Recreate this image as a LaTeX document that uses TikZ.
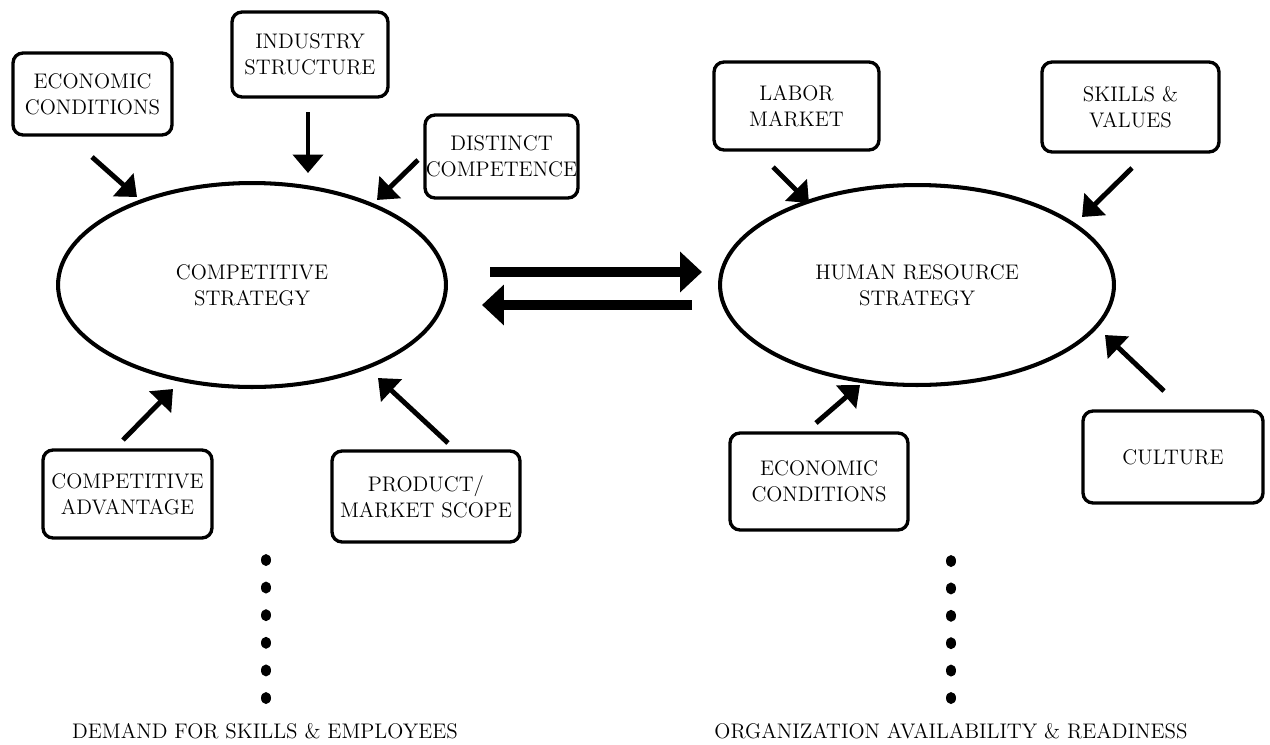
\documentclass[tikz,border=0pt]{standalone}
\usetikzlibrary{arrows.meta,shapes.geometric}
\begin{document}
\begin{tikzpicture}[x=0.02cm,y=-0.02cm,
  lbl/.style={font=\fontsize{12}{15}\selectfont, align=center},
  box/.style={lbl, draw, line width=1.9pt, rounded corners=0.2cm, inner sep=0pt},
  oval/.style={lbl, draw, ellipse, line width=2.3pt, inner sep=0pt},
  feed/.style={line width=2.8pt, -{Triangle[length=10.5pt,width=17pt]}},
  flow/.style={line width=5.6pt, -{Triangle[length=12.5pt,width=22.5pt]}},
  dot/.style={fill=black},
]
\useasboundingbox (0,0) rectangle (1270,744);

% --- competitive strategy side ---
\node[oval, minimum width=7.76cm, minimum height=4.08cm] (cs) at (252,285) {COMPETITIVE\\STRATEGY};

\node[box, minimum width=3.18cm, minimum height=1.64cm] (econL) at (92.5,94) {ECONOMIC\\CONDITIONS};
\node[box, minimum width=3.12cm, minimum height=1.70cm] (industry) at (310,54.5) {INDUSTRY\\STRUCTURE};
\node[box, minimum width=3.06cm, minimum height=1.66cm] (distinct) at (501.5,156.5) {DISTINCT\\COMPETENCE};
\node[box, minimum width=3.38cm, minimum height=1.76cm] (advantage) at (127.5,494) {COMPETITIVE\\ADVANTAGE};
\node[box, minimum width=3.76cm, minimum height=1.82cm] (scope) at (426,496.5) {PRODUCT/\\MARKET SCOPE};

\coordinate (econL-t) at (92,157);   \coordinate (econL-h) at (137,197);
\coordinate (ind-t) at (308,112);    \coordinate (ind-h) at (308,173);
\coordinate (dist-t) at (418,160);   \coordinate (dist-h) at (377,200);
\coordinate (adv-t) at (123,440);    \coordinate (adv-h) at (173,389);
\coordinate (scope-t) at (448,443);  \coordinate (scope-h) at (378,378);

\draw[feed] (econL-t) -- (econL-h);
\draw[feed] (ind-t) -- (ind-h);
\draw[feed] (dist-t) -- (dist-h);
\draw[feed] (adv-t) -- (adv-h);
\draw[feed] (scope-t) -- (scope-h);

% --- human resource strategy side ---
\node[oval, minimum width=7.88cm, minimum height=4.0cm] (hrs) at (917,285) {HUMAN RESOURCE\\STRATEGY};

\node[box, minimum width=3.30cm, minimum height=1.76cm] (labor) at (796.5,106) {LABOR\\MARKET};
\node[box, minimum width=3.54cm, minimum height=1.80cm] (skills) at (1130.5,107) {SKILLS \&\\VALUES};
\node[box, minimum width=3.56cm, minimum height=1.94cm] (econR) at (819,481.5) {ECONOMIC\\CONDITIONS};
\node[box, minimum width=3.60cm, minimum height=1.84cm] (culture) at (1173,457) {CULTURE};

\coordinate (labor-t) at (773,167);   \coordinate (labor-h) at (809,203);
\coordinate (skills-t) at (1132,168); \coordinate (skills-h) at (1082,217);
\coordinate (econR-t) at (816,423);   \coordinate (econR-h) at (860,385);
\coordinate (cult-t) at (1164,391);   \coordinate (cult-h) at (1105,335);

\draw[feed] (labor-t) -- (labor-h);
\draw[feed] (skills-t) -- (skills-h);
\draw[feed] (econR-t) -- (econR-h);
\draw[feed] (cult-t) -- (cult-h);

% --- two-way link between the strategies ---
\coordinate (fwd-t) at (490,272);  \coordinate (fwd-h) at (702,272);
\coordinate (back-t) at (692,305); \coordinate (back-h) at (482,305);
\draw[flow] (fwd-t) -- (fwd-h);
\draw[flow] (back-t) -- (back-h);

% --- dotted columns and outcomes ---
\foreach \i in {0,...,5} {
  \fill[dot] (266,560+27.6*\i) ellipse [x radius=0.1cm, y radius=0.12cm];
  \fill[dot] (951,561+27.4*\i) ellipse [x radius=0.1cm, y radius=0.12cm];
}
\node[lbl, anchor=base] (demand) at (265,738) {DEMAND FOR SKILLS \& EMPLOYEES};
\node[lbl, anchor=base] (supply) at (951,738) {ORGANIZATION AVAILABILITY \& READINESS};
\end{tikzpicture}
\end{document}
